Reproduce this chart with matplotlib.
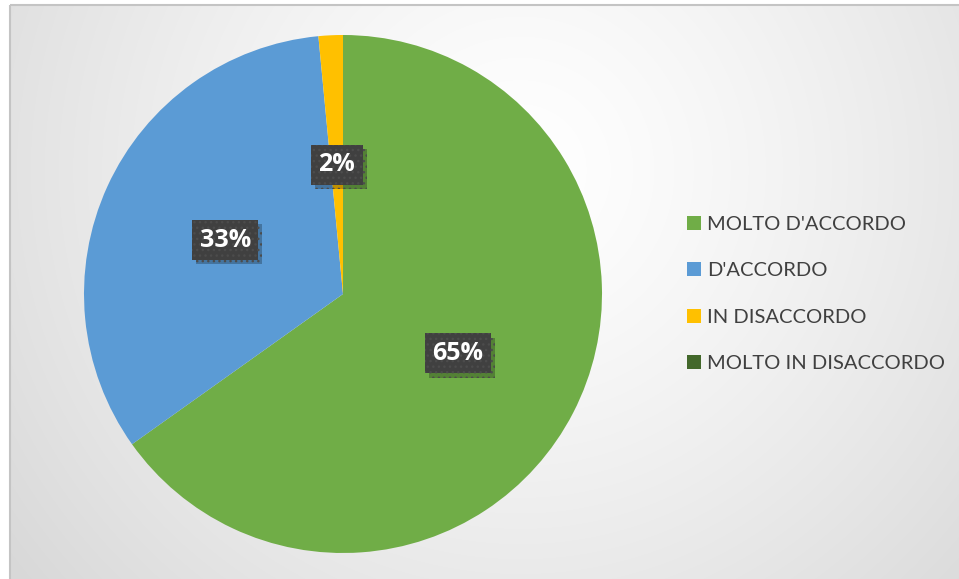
import numpy as np
import matplotlib
matplotlib.use("Agg")
import matplotlib.pyplot as plt
import matplotlib.patheffects as pe
from matplotlib.patches import Rectangle

# Dati del grafico (risposte al questionario)
categories = ["MOLTO D'ACCORDO", "D'ACCORDO", "IN DISACCORDO", "MOLTO IN DISACCORDO"]
counts = [43, 22, 1, 0]
colors = ["#70AD47", "#5B9BD5", "#FFC000", "#43682B"]

W, H = 959, 579
fig = plt.figure(figsize=(W / 100, H / 100), dpi=100)
fig.patch.set_facecolor("white")

# Sfondo con gradiente radiale (bianco al centro, grigio ai bordi)
bg = fig.add_axes([0, 0, 1, 1], zorder=0)
yy, xx = np.mgrid[0:H, 0:W]
cx, cy = 520, 170
d = np.sqrt((xx - cx) ** 2 + (yy - cy) ** 2) / 640.0
d = np.clip(d, 0, 1)
val = 1.0 - (1.0 - 0.85) * d ** 1.3
img = np.dstack([val, val, val])
img[:5, :, :] = 1.0
img[:, :10, :] = 1.0
bg.imshow(img, extent=(0, W, H, 0), aspect="auto", interpolation="bilinear")
bg.set_xlim(0, W)
bg.set_ylim(H, 0)
bg.axis("off")
# Bordo del riquadro
bg.add_patch(Rectangle((10, 5), W + 20, H + 20, fill=False, edgecolor="#c4c4c4", linewidth=1.5))

# Grafico a torta
r = 259
ax = fig.add_axes([(343 - r) / W, (H - 294 - r) / H, 2 * r / W, 2 * r / H], zorder=1)


def fmt(p):
    return f"{p:.0f}%" if p > 0.5 else ""


wedges, texts, autotexts = ax.pie(
    counts, colors=colors, startangle=90, counterclock=False,
    autopct=fmt, pctdistance=0.5, wedgeprops=dict(linewidth=0),
)
ax.set_xlim(-1, 1)
ax.set_ylim(-1, 1)
ax.set_aspect("equal")

for t in autotexts:
    if not t.get_text():
        continue
    t.set_color("white")
    t.set_fontsize(18)
    t.set_fontweight("bold")
    t.set_family("Open Sans")
    t.set_bbox(dict(boxstyle="square,pad=0.3", facecolor="#404040", edgecolor="#4c4c4c",
                    linewidth=0, hatch="..."))
    t.get_bbox_patch().set_path_effects([
        pe.SimplePatchShadow(offset=(3, -3), shadow_rgbFace="black", alpha=0.25),
        pe.Normal(),
    ])

# Legenda
leg = fig.legend(
    wedges, categories, loc="center left", bbox_to_anchor=(687 / W, 1 - 294 / H),
    frameon=False, borderpad=0, borderaxespad=0,
    handlelength=0.7, handleheight=0.7, handletextpad=0.3,
    labelspacing=1.45, prop=dict(family="Lato", size=14.5), labelcolor="#404040",
)

fig.savefig("out.png", dpi=100)
